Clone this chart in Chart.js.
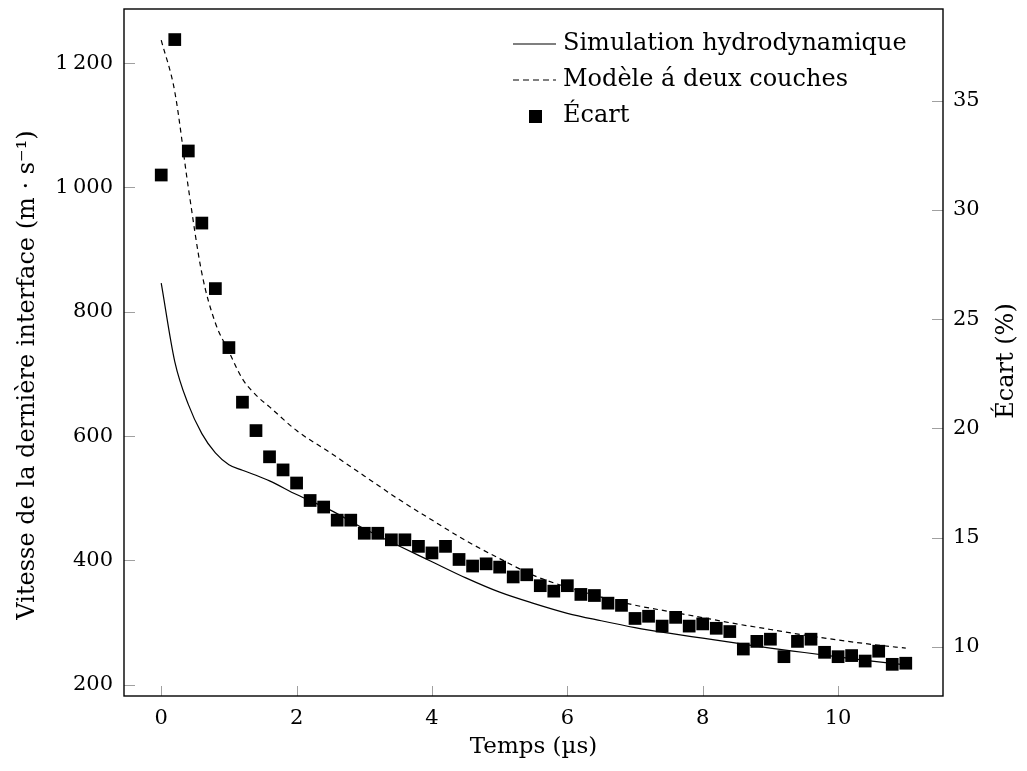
<!DOCTYPE html>
<html>
<head>
<meta charset="utf-8">
<script src="https://cdn.jsdelivr.net/npm/chart.js@4/dist/chart.umd.min.js"></script>
<style>
  html, body { margin: 0; padding: 0; background: #fff; }
  #graphe { display: block; }
</style>
</head>
<body>
<canvas id="graphe" width="1027" height="771"></canvas>
<script>
// ======= Donnees =======
const tempsEcart = [0, 0.2, 0.4, 0.6, 0.8, 1, 1.2, 1.4, 1.6, 1.8, 2, 2.2, 2.4, 2.6, 2.8, 3, 3.2, 3.4, 3.6, 3.8,
    4, 4.2, 4.4, 4.6, 4.8, 5, 5.2, 5.4, 5.6, 5.8, 6, 6.2, 6.4, 6.6, 6.8, 7, 7.2, 7.4, 7.6, 7.8,
    8, 8.2, 8.4, 8.6, 8.8, 9, 9.2, 9.4, 9.6, 9.8, 10, 10.2, 10.4, 10.6, 10.8, 11];
const ecart = [31.6, 37.8, 32.7, 29.4, 26.4, 23.7, 21.2, 19.9, 18.7, 18.1, 17.5, 16.7, 16.4, 15.8, 15.8, 15.2, 15.2, 14.9, 14.9, 14.6,
    14.3, 14.6, 14.0, 13.7, 13.8, 13.65, 13.2, 13.3, 12.8, 12.55, 12.8, 12.4, 12.35, 12.0, 11.9, 11.3, 11.4, 10.95, 11.35, 10.95,
    11.05, 10.85, 10.7, 9.9, 10.25, 10.35, 9.55, 10.25, 10.35, 9.75, 9.55, 9.6, 9.35, 9.8, 9.2, 9.25];

const tempsSim = [0, 0.2, 0.4, 0.6, 0.8, 1, 1.2, 1.4, 1.6, 2, 2.5, 3, 3.5, 4, 4.5, 5, 5.5, 6, 6.5, 7, 7.5, 8, 8.5, 9, 9.5, 10, 10.5, 11];
const vitesseSim = [846, 720, 651, 604, 573, 554, 545, 537, 528, 506, 481, 451, 424, 398, 372, 349, 331, 315, 303, 292, 283, 275, 267, 259, 252, 245, 238, 232];

const tempsModele = [0, 0.2, 0.4, 0.6, 0.8, 1, 1.2, 1.4, 1.6, 2, 2.5, 3, 3.5, 4, 4.5, 5, 5.5, 6, 6.5, 7, 7.5, 8, 8.5, 9, 9.5, 10, 10.5, 11];
const vitesseModele = [1237, 1154, 1000, 862, 782, 736, 692, 666, 647, 609, 573, 536, 499, 465, 432, 403, 376, 357, 341, 328, 318, 308, 298, 289, 280, 272, 265, 259];

const ticksTemps = [0, 2, 4, 6, 8, 10];
const ticksVitesse = [200, 400, 600, 800, 1000, 1200];
const ticksEcart = [10, 15, 20, 25, 30, 35];

const nomsSeries = ['Simulation hydrodynamique', 'Modèle á deux couches', 'Écart'];
const titreX = 'Temps (µs)';
const titreY = 'Vitesse de la dernière interface (m · s⁻¹)';
const titreY1 = 'Écart (%)';

const POLICE = '"DejaVu Serif", serif';
const TAILLE_TICKS = 21;
const TAILLE_TEXTE = 24;

function paires(xs, ys) {
    return xs.map((x, i) => ({ x: x, y: ys[i] }));
}

function fixeTicks(valeurs) {
    return function (scale) {
        scale.ticks = valeurs.map(v => ({ value: v }));
    };
}

// ======= Cadre, graduations, titres et legende =======
const decor = {
    id: 'decor',
    afterDatasetsDraw(chart) {
        const ctx = chart.ctx;
        const a = chart.chartArea;
        const sx = chart.scales.x, sy = chart.scales.y, sy1 = chart.scales.y1;
        ctx.save();

        // graduations vers l'interieur
        ctx.strokeStyle = '#a0a0a0';
        ctx.lineWidth = 1;
        ctx.beginPath();
        ticksTemps.forEach(v => {
            const px = Math.round(sx.getPixelForValue(v)) + 0.5;
            ctx.moveTo(px, a.bottom); ctx.lineTo(px, a.bottom - 10);
        });
        ticksVitesse.forEach(v => {
            const py = Math.round(sy.getPixelForValue(v)) + 0.5;
            ctx.moveTo(a.left, py); ctx.lineTo(a.left + 11, py);
        });
        ticksEcart.forEach(v => {
            const py = Math.round(sy1.getPixelForValue(v)) + 0.5;
            ctx.moveTo(a.right, py); ctx.lineTo(a.right - 11, py);
        });
        ctx.stroke();

        // cadre
        ctx.strokeStyle = '#000';
        ctx.lineWidth = 1.4;
        ctx.strokeRect(a.left, a.top, a.right - a.left, a.bottom - a.top);

        // titres des axes
        ctx.fillStyle = '#000';
        ctx.textAlign = 'center';
        ctx.textBaseline = 'middle';
        ctx.font = '23px ' + POLICE;
        ctx.fillText(titreX, (a.left + a.right) / 2, 747);

        ctx.font = TAILLE_TEXTE + 'px ' + POLICE;
        ctx.save();
        ctx.translate(28, 375);
        ctx.rotate(-Math.PI / 2);
        ctx.fillText(titreY, 0, 0);
        ctx.restore();

        ctx.save();
        ctx.translate(1007, 361);
        ctx.rotate(-Math.PI / 2);
        ctx.fillText(titreY1, 0, 0);
        ctx.restore();

        // legende
        const xs = 513, xe = 556, xt = 563;
        const lignes = [44, 80, 116];
        ctx.textAlign = 'left';
        ctx.lineWidth = 1.2;
        ctx.strokeStyle = '#000';

        ctx.setLineDash([]);
        ctx.beginPath(); ctx.moveTo(xs, lignes[0]); ctx.lineTo(xe, lignes[0]); ctx.stroke();
        ctx.fillText(nomsSeries[0], xt, lignes[0]);

        ctx.setLineDash([6, 4]);
        ctx.beginPath(); ctx.moveTo(xs, lignes[1]); ctx.lineTo(xe, lignes[1]); ctx.stroke();
        ctx.setLineDash([]);
        ctx.fillText(nomsSeries[1], xt, lignes[1]);

        ctx.fillRect(529, lignes[2] - 6, 13, 13);
        ctx.fillText(nomsSeries[2], xt, lignes[2]);

        ctx.restore();
    }
};

const ctx = document.getElementById('graphe').getContext('2d');
new Chart(ctx, {
    type: 'line',
    data: {
        datasets: [
            {
                label: nomsSeries[0],
                data: paires(tempsSim, vitesseSim),
                yAxisID: 'y',
                borderColor: '#000',
                borderWidth: 1.2,
                pointRadius: 0,
                fill: false,
                cubicInterpolationMode: 'monotone'
            },
            {
                label: nomsSeries[1],
                data: paires(tempsModele, vitesseModele),
                yAxisID: 'y',
                borderColor: '#000',
                borderWidth: 1.2,
                borderDash: [5, 4],
                pointRadius: 0,
                fill: false,
                cubicInterpolationMode: 'monotone'
            },
            {
                label: nomsSeries[2],
                data: paires(tempsEcart, ecart),
                yAxisID: 'y1',
                showLine: false,
                pointStyle: 'rect',
                pointRadius: 9,
                pointBackgroundColor: '#000',
                pointBorderWidth: 0
            }
        ]
    },
    options: {
        responsive: false,
        devicePixelRatio: 1,
        animation: false,
        layout: { padding: { top: 8, left: 0, right: 0, bottom: 0 } },
        plugins: {
            legend: { display: false },
            tooltip: { enabled: false }
        },
        scales: {
            x: {
                type: 'linear',
                position: 'bottom',
                min: -0.55,
                max: 11.55,
                afterBuildTicks: fixeTicks(ticksTemps),
                afterFit: s => { s.height = 75; s.paddingLeft = 0; s.paddingRight = 0; },
                grid: { display: false, drawTicks: false },
                border: { display: false },
                ticks: {
                    padding: 10,
                    color: '#000',
                    font: { family: POLICE, size: TAILLE_TICKS },
                    maxRotation: 0
                }
            },
            y: {
                type: 'linear',
                position: 'left',
                min: 182,
                max: 1287,
                afterBuildTicks: fixeTicks(ticksVitesse),
                afterFit: s => { s.width = 124; s.paddingTop = 0; s.paddingBottom = 0; },
                grid: { display: false, drawTicks: false },
                border: { display: false },
                ticks: {
                    padding: 11,
                    color: '#000',
                    font: { family: POLICE, size: TAILLE_TICKS },
                    callback: v => v >= 1000 ? String(v).replace(/^(\d)/, '$1\u2009') : String(v)
                }
            },
            y1: {
                type: 'linear',
                position: 'right',
                min: 7.75,
                max: 39.2,
                afterBuildTicks: fixeTicks(ticksEcart),
                afterFit: s => { s.width = 84; s.paddingTop = 0; s.paddingBottom = 0; },
                grid: { display: false, drawTicks: false },
                border: { display: false },
                ticks: {
                    padding: 10,
                    color: '#000',
                    font: { family: POLICE, size: TAILLE_TICKS }
                }
            }
        }
    },
    plugins: [decor]
});
</script>
</body>
</html>
